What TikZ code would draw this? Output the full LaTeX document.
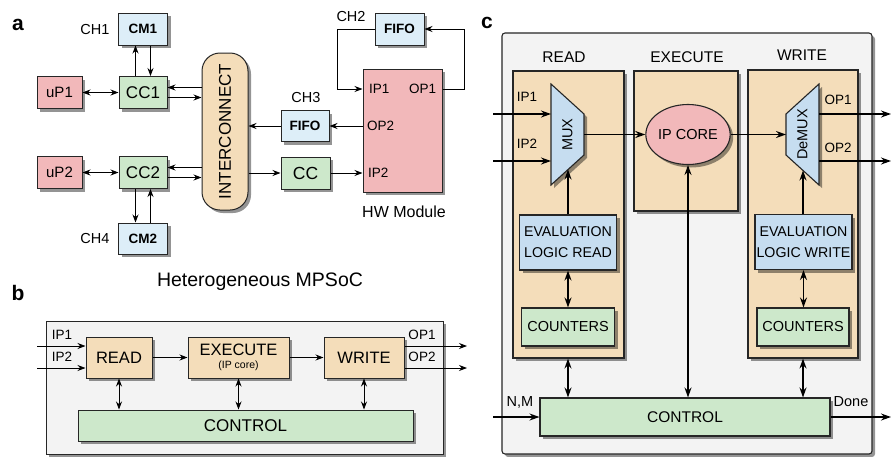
\documentclass[tikz,border=0pt]{standalone}
\usepackage{fontspec}
\usepackage{graphicx}
\setmainfont{Liberation Sans}
\usetikzlibrary{shapes.geometric,shadows,arrows.meta,calc}
\definecolor{cpink}{HTML}{F2B8BA}
\definecolor{cgreen}{HTML}{CDE8CB}
\definecolor{clblue}{HTML}{DDEEF8}
\definecolor{cblue}{HTML}{C6DDF0}
\definecolor{cpeach}{HTML}{F4DDBA}
\definecolor{cgray}{HTML}{F3F3F3}
\begin{document}
\begin{tikzpicture}[x=1pt,y=-1pt,
  fs/.style={font=\fontsize{#1}{#1}\selectfont},
  fsb/.style={font=\fontsize{#1}{#1}\selectfont\bfseries},
  shad/.style={drop shadow={shadow xshift=3pt,shadow yshift=-3pt,fill=black,opacity=0.42}},
  bx/.style={draw=black!85,line width=1pt,inner sep=0pt,shad},
  cbx/.style={draw=black!85,line width=1.1pt,inner sep=0pt,shad},
  lbl/.style={inner sep=0pt,font=\fontsize{21}{21}\selectfont\bfseries},
  txt/.style={inner sep=0pt},
  arr/.style={-{Stealth[length=8pt,width=6pt]},line width=0.85pt},
  darr/.style={{Stealth[length=8pt,width=6pt]}-{Stealth[length=8pt,width=6pt]},line width=0.85pt},
  carr/.style={-{Stealth[length=10pt,width=7pt]},line width=1.3pt},
  cdarr/.style={{Stealth[length=10pt,width=7pt]}-{Stealth[length=10pt,width=7pt]},line width=1.3pt},
  trap/.style={fill=cblue,draw=black!85,line width=1.1pt,shad}
]
\path[use as bounding box,fill=white] (0,0) rectangle (892,456);

% ---------------- part a ----------------
\node[lbl] (la) at (18,25) {a};
\node[bx,fill=clblue,minimum width=49pt,minimum height=32pt,fsb=13.5] (cm1) at (143,29) {CM1};
\node[bx,fill=cgreen,minimum width=48pt,minimum height=32pt,fs=17] (cc1) at (143,92.5) {CC1};
\node[bx,fill=cpink,minimum width=45pt,minimum height=32pt,fs=15] (up1) at (59.5,92.5) {uP1};
\node[bx,fill=cpink,minimum width=45pt,minimum height=32pt,fs=15] (up2) at (59.5,172.5) {uP2};
\node[bx,fill=cgreen,minimum width=48pt,minimum height=32pt,fs=17] (cc2) at (143,172.5) {CC2};
\node[bx,fill=clblue,minimum width=49pt,minimum height=31pt,fsb=13.5] (cm2) at (143,238.5) {CM2};
\node[bx,fill=cpeach,rounded corners=18pt,minimum width=46pt,minimum height=157pt,fs=17] (ic) at (225,131.5) {\rotatebox{90}{INTERCONNECT}};
\node[bx,fill=clblue,minimum width=49pt,minimum height=32pt,fsb=13.5] (fifo1) at (399.5,29) {FIFO};
\node[bx,fill=cpink,minimum width=79pt,minimum height=123pt] (hw) at (402.5,130.5) {};
\node[bx,fill=clblue,minimum width=48pt,minimum height=31pt,fsb=13.5] (f3) at (305,126) {FIFO};
\node[bx,fill=cgreen,minimum width=49pt,minimum height=32pt,fs=17.5] (cc) at (305.5,173) {CC};

\node[txt,fs=14.5] (ch1) at (95,30) {CH1};
\node[txt,fs=14.5] (ch4) at (95,239) {CH4};
\node[txt,fs=14.5] (ch2) at (351,17) {CH2};
\node[txt,fs=14.5] (ch3) at (306,98) {CH3};
\node[txt,fs=16] (hwl) at (404,212) {HW Module};
\node[txt,fs=19.5] (mps) at (260,282) {Heterogeneous MPSoC};
\node[txt,fs=13.5,anchor=west] (ip1a) at (369,89) {IP1};
\node[txt,fs=13.5,anchor=west] (op1a) at (409,89) {OP1};
\node[txt,fs=13.5,anchor=west] (op2a) at (367,126) {OP2};
\node[txt,fs=13.5,anchor=west] (ip2a) at (368,173) {IP2};

\draw[arr] ([xshift=-7.5pt]cc1.north) -- ([xshift=-7.5pt]cm1.south);
\draw[arr] ([xshift=7.5pt]cm1.south) -- ([xshift=7.5pt]cc1.north);
\draw[darr] (up1.east) -- (cc1.west);
\draw[arr] ($(ic.west|-cc1.east)+(0,5pt)$) -- ($(cc1.east)+(0,5pt)$);
\draw[arr] ($(cc1.east)+(0,-5pt)$) -- ($(ic.west|-cc1.east)+(0,-5pt)$);
\draw[arr] ($(ic.west|-cc2.east)+(0,5pt)$) -- ($(cc2.east)+(0,5pt)$);
\draw[arr] ($(cc2.east)+(0,-5pt)$) -- ($(ic.west|-cc2.east)+(0,-5pt)$);
\draw[darr] (up2.east) -- (cc2.west);
\draw[arr] ([xshift=-7.5pt]cc2.south) -- ([xshift=-7.5pt]cm2.north);
\draw[arr] ([xshift=7.5pt]cm2.north) -- ([xshift=7.5pt]cc2.south);
\draw[arr] (hw.east|-op1a) -- ++(22,0) |- (fifo1.east);
\draw[arr] (fifo1.west) -- ++(-37,0) |- (hw.west|-ip1a);
\draw[arr] (hw.west|-op2a) -- (f3.east);
\draw[arr] (f3.west) -- (ic.east|-f3.west);
\draw[arr] (ic.east|-cc.west) -- (cc.west);
\draw[arr] (cc.east) -- (hw.west|-cc.east);

% ---------------- part b ----------------
\node[lbl] (lb) at (18,293) {b};
\node[bx,fill=cgray,minimum width=397pt,minimum height=133pt] (bbg) at (244.5,387.5) {};
\node[bx,fill=cpeach,minimum width=66pt,minimum height=41pt,fs=16.5] (read) at (119,357.5) {READ};
\node[bx,fill=cpeach,minimum width=101pt,minimum height=41pt,fs=16.5,align=center] (exe) at (238.5,357.5) {EXECUTE\\[-3pt]{\fontsize{10.5}{10.5}\selectfont (IP core)}};
\node[bx,fill=cpeach,minimum width=80pt,minimum height=41pt,fs=16.5] (wri) at (364,357.5) {WRITE};
\node[bx,fill=cgreen,minimum width=335pt,minimum height=31pt,fs=17] (ctl) at (245.5,425.5) {CONTROL};
\coordinate (bi1) at (37,346);
\coordinate (bi2) at (37,368);
\coordinate (bo1) at (467,346);
\coordinate (bo2) at (467,368);
\node[txt,fs=13.5] (bip1) at (62,335) {IP1};
\node[txt,fs=13.5] (bip2) at (62,357) {IP2};
\node[txt,fs=13.5] (bop1) at (422,335) {OP1};
\node[txt,fs=13.5] (bop2) at (422,357) {OP2};
\draw[arr] (bi1) -- (read.west|-bi1);
\draw[arr] (bi2) -- (read.west|-bi2);
\draw[arr] (wri.east|-bo1) -- (bo1);
\draw[arr] (wri.east|-bo2) -- (bo2);
\draw[arr] (read.east) -- (exe.west);
\draw[arr] (exe.east) -- (wri.west);
\draw[darr] (read.south) -- (read.south|-ctl.north);
\draw[darr] (exe.south) -- (exe.south|-ctl.north);
\draw[darr] (wri.south) -- (wri.south|-ctl.north);

% ---------------- part c ----------------
\node[lbl] (lc) at (487,23) {c};
\node[cbx,fill=cgray,rounded corners=3pt,minimum width=370pt,minimum height=421pt] (cbg) at (687,243.5) {};
\node[cbx,fill=cpeach,minimum width=111pt,minimum height=287pt] (pR) at (568.5,214.5) {};
\node[cbx,fill=cpeach,minimum width=104pt,minimum height=140pt] (pE) at (686,141) {};
\node[cbx,fill=cpeach,minimum width=110pt,minimum height=288pt] (pW) at (803,214) {};
\node[txt,fs=15.5] (tR) at (564,57) {READ};
\node[txt,fs=15.5] (tE) at (687,57) {EXECUTE};
\node[txt,fs=15.5] (tW) at (802,55) {WRITE};
% MUX / DeMUX trapezia
\draw[trap] (551,84) -- (584,114) -- (584,155) -- (551,185) -- cycle;
\coordinate (muxL) at (551,134.5);
\coordinate (muxR) at (584,134.5);
\coordinate (muxB) at (568,169.5);
\node[txt,fs=14.5] (mux) at (567.5,134.5) {\rotatebox{90}{MUX}};
\draw[trap] (786,114) -- (819,84) -- (819,185) -- (786,155) -- cycle;
\coordinate (dmxL) at (786,134.5);
\coordinate (dmxR) at (819,134.5);
\coordinate (dmxB) at (803,170.5);
\node[txt,fs=14.5] (dmx) at (802.5,134.5) {\rotatebox{90}{DeMUX}};
\node[cbx,ellipse,fill=cpink,minimum width=73pt,minimum height=60pt,fs=14.5] (ipc) at (688,134.5) {IP CORE};
\node[cbx,fill=cblue,minimum width=97pt,minimum height=55pt,align=center,font=\fontsize{14.2}{21}\selectfont] (evR) at (568,242.5) {EVALUATION\\LOGIC READ};
\node[cbx,fill=cblue,minimum width=97pt,minimum height=55pt,align=center,font=\fontsize{14.2}{21}\selectfont] (evW) at (803.5,242) {EVALUATION\\LOGIC WRITE};
\node[cbx,fill=cgreen,minimum width=93pt,minimum height=38pt,fs=14.5] (ctR) at (568,327) {COUNTERS};
\node[cbx,fill=cgreen,minimum width=92pt,minimum height=38pt,fs=14.5] (ctW) at (803,327) {COUNTERS};
\node[cbx,fill=cgreen,minimum width=290pt,minimum height=38pt,fs=15.5] (cctl) at (685,417) {CONTROL};
\coordinate (ci1) at (493,114);
\coordinate (ci2) at (493,161);
\coordinate (co1) at (891,114);
\coordinate (co2) at (891,161);
\coordinate (cnm) at (493,417);
\coordinate (cdone) at (891,417);
\node[txt,fs=13.5] (cip1) at (527,97) {IP1};
\node[txt,fs=13.5] (cip2) at (527,144) {IP2};
\node[txt,fs=13.5] (cop1) at (838,100) {OP1};
\node[txt,fs=13.5] (cop2) at (838,148) {OP2};
\node[txt,fs=14.5] (cnml) at (520,402) {N,M};
\node[txt,fs=14.5] (cdl) at (851,402) {Done};
\draw[carr] (ci1) -- (ci1-|muxL);
\draw[carr] (ci2) -- (ci2-|muxL);
\draw[carr] (muxR) -- (ipc.west);
\draw[carr] (ipc.east) -- (dmxL);
\draw[carr] (dmxR|-co1) -- (co1);
\draw[carr] (dmxR|-co2) -- (co2);
\draw[carr] (muxB|-evR.north) -- (muxB);
\draw[carr] (dmxB|-evW.north) -- (dmxB);
\draw[cdarr] (ipc.south) -- (ipc.south|-cctl.north);
\draw[cdarr] (evR.south) -- (ctR.north);
\draw[cdarr] (evW.south) -- (evW.south|-ctW.north);
\draw[cdarr] (ctR.south|-pR.south) -- (ctR.south|-cctl.north);
\draw[cdarr] (ctW.south|-pW.south) -- (ctW.south|-cctl.north);
\draw[carr] (cnm) -- (cctl.west);
\draw[carr] (cctl.east) -- (cdone);
\end{tikzpicture}
\end{document}
